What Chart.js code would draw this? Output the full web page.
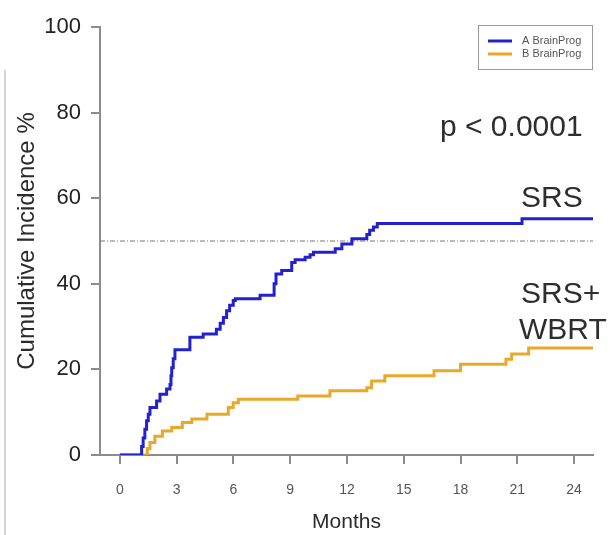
<!DOCTYPE html>
<html>
<head>
<meta charset="utf-8">
<script src="https://cdn.jsdelivr.net/npm/chart.js@4.4.1/dist/chart.umd.min.js"></script>
<style>
  html, body { margin: 0; padding: 0; background: #ffffff; }
  #wrap { width: 612px; height: 535px; position: relative; }
</style>
</head>
<body>
<div id="wrap"><canvas id="c" width="612" height="535"></canvas></div>
<script>
// ---- data ----
const seriesLabels = ['A BrainProg', 'B BrainProg'];
const blueMonths = [0, 1.06, 1.15, 1.23, 1.32, 1.41, 1.5, 1.59, 1.94, 2.12, 2.47, 2.65, 2.7, 2.74, 2.82, 2.91, 3.7, 4.4, 5.1, 5.3, 5.47, 5.64, 5.8, 5.99, 6.1, 7.41, 8.15, 8.25, 8.55, 9.08, 9.26, 9.79, 10.05, 10.23, 11.38, 11.73, 12.26, 13.05, 13.2, 13.4, 13.6, 21.25, 25];
const blueValues = [0, 0, 2, 4, 6, 8, 9.5, 11.1, 12.6, 14.2, 15.4, 16.5, 18.5, 20.4, 22.5, 24.6, 27.5, 28.3, 29.4, 30.8, 32.1, 33.7, 35, 36.1, 36.5, 37.3, 40, 42.3, 43.1, 45, 45.6, 46.2, 46.8, 47.4, 48.2, 49.3, 50.5, 51.5, 52.5, 53.3, 54.1, 55.2, 55.2];
const orangeMonths = [0, 1.4, 1.45, 1.59, 1.85, 2.25, 2.74, 3.3, 3.8, 4.6, 5.73, 5.99, 6.26, 9.4, 11.1, 13.05, 13.3, 14.0, 16.6, 18.0, 20.4, 20.7, 21.6, 25];
const orangeValues = [0, 0, 1.5, 2.9, 4.4, 5.6, 6.4, 7.6, 8.4, 9.5, 11.1, 12.2, 13.0, 13.8, 15.0, 15.7, 17.3, 18.5, 19.7, 21.2, 22.4, 23.6, 25.0, 25.0];
const referenceLevel = 50;
const xTickValues = [0, 3, 6, 9, 12, 15, 18, 21, 24];
const yTickValues = [0, 20, 40, 60, 80, 100];
const xRange = [-1.05, 25];
const yRange = [0, 100];
const annotations = ['p < 0.0001', 'SRS', 'SRS+', 'WBRT'];

const toPoints = (xs, ys) => xs.map((x, i) => ({ x: x, y: ys[i] }));
const FONT = '"Liberation Sans", Arial, Helvetica, sans-serif';
const BLUE = '#2222cc';
const ORANGE = '#e9a82a';

const framePlugin = {
  id: 'frame',
  beforeDraw(chart) {
    const ctx = chart.ctx;
    ctx.save();
    ctx.strokeStyle = '#d4d4d4';
    ctx.lineWidth = 2;
    ctx.beginPath();
    ctx.moveTo(5, 70);
    ctx.lineTo(5, 535);
    ctx.stroke();
    ctx.restore();
  }
};

const textPlugin = {
  id: 'texts',
  afterDraw(chart) {
    const ctx = chart.ctx;
    ctx.save();
    ctx.fillStyle = '#2e2e2e';
    ctx.font = '30px ' + FONT;
    ctx.textAlign = 'left';
    ctx.textBaseline = 'alphabetic';
    ctx.fillText(annotations[0], 440, 136);
    ctx.fillText(annotations[1], 521, 207);
    ctx.fillText(annotations[2], 521, 303);
    ctx.fillText(annotations[3], 519, 339);
    ctx.restore();
  }
};

const legendPlugin = {
  id: 'boxLegend',
  afterDraw(chart) {
    const ctx = chart.ctx;
    ctx.save();
    ctx.fillStyle = '#ffffff';
    ctx.fillRect(478, 25, 115, 45);
    ctx.strokeStyle = '#9a9a9a';
    ctx.lineWidth = 1;
    ctx.strokeRect(478.5, 25.5, 114, 44);
    ctx.font = '11px ' + FONT;
    ctx.textBaseline = 'middle';
    ctx.textAlign = 'left';
    const rows = [41, 54];
    chart.data.datasets.slice(0, 2).forEach((ds, i) => {
      ctx.strokeStyle = ds.borderColor;
      ctx.lineWidth = 3;
      ctx.beginPath();
      ctx.moveTo(488, rows[i]);
      ctx.lineTo(512, rows[i]);
      ctx.stroke();
      ctx.fillStyle = '#555555';
      ctx.fillText(ds.label, 522, rows[i]);
    });
    ctx.restore();
  }
};

new Chart(document.getElementById('c'), {
  type: 'line',
  data: {
    datasets: [
      {
        label: seriesLabels[0],
        data: toPoints(blueMonths, blueValues),
        borderColor: BLUE,
        borderWidth: 3,
        stepped: 'before',
        pointRadius: 0,
        fill: false
      },
      {
        label: seriesLabels[1],
        data: toPoints(orangeMonths, orangeValues),
        borderColor: ORANGE,
        borderWidth: 3,
        stepped: 'before',
        pointRadius: 0,
        fill: false
      },
      {
        label: 'reference',
        data: [{ x: xRange[0], y: referenceLevel }, { x: xRange[1], y: referenceLevel }],
        borderColor: '#777777',
        borderWidth: 1,
        borderDash: [5, 2, 1, 2],
        pointRadius: 0,
        fill: false
      }
    ]
  },
  options: {
    responsive: false,
    animation: false,
    devicePixelRatio: 1,
    layout: { padding: { left: 0, right: 19, top: 27, bottom: 0 } },
    plugins: { legend: { display: false }, tooltip: { enabled: false } },
    scales: {
      x: {
        type: 'linear',
        min: xRange[0],
        max: xRange[1],
        afterBuildTicks: (s) => { s.ticks = xTickValues.map(v => ({ value: v })); },
        afterFit: (s) => { s.height = 80; },
        grid: { display: true, drawOnChartArea: false, drawTicks: true, tickLength: 9, color: '#8c8c8c', lineWidth: 2 },
        border: { display: true, color: '#8c8c8c', width: 2 },
        ticks: { color: '#555555', font: { family: FONT, size: 14 }, padding: 18, maxRotation: 0, autoSkip: false },
        title: { display: true, text: 'Months', color: '#2b2b2b', font: { family: FONT, size: 21 }, padding: { top: 0, bottom: 0 } }
      },
      y: {
        type: 'linear',
        min: yRange[0],
        max: yRange[1],
        afterBuildTicks: (s) => { s.ticks = yTickValues.map(v => ({ value: v })); },
        afterFit: (s) => { s.width = 100; },
        grid: { display: true, drawOnChartArea: false, drawTicks: true, tickLength: 9, color: '#8c8c8c', lineWidth: 2 },
        border: { display: true, color: '#8c8c8c', width: 2 },
        ticks: { color: '#222222', font: { family: FONT, size: 22 }, padding: 10 },
        title: { display: true, text: 'Cumulative Incidence %', color: '#2b2b2b', font: { family: FONT, size: 24 }, padding: { top: 13, bottom: 0 } }
      }
    }
  },
  plugins: [framePlugin, legendPlugin, textPlugin]
});
</script>
</body>
</html>
